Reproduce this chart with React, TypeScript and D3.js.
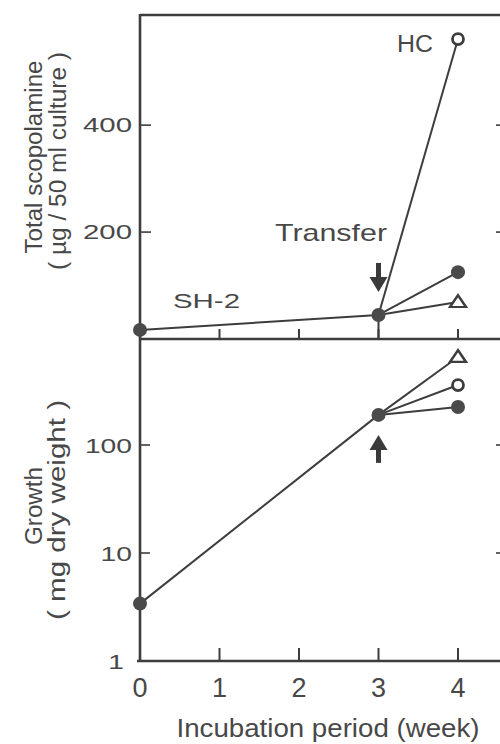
import React from "react";
import * as d3 from "d3";

// weeks on the x axis
const weekTicks = [0, 1, 2, 3, 4];

// SH-2 culture before transfer (week 0 and week 3)
const sh2Weeks = [0, 3];
const sh2Scopolamine = [17, 45]; // µg / 50 ml
const sh2Growth = [3.4, 190]; // mg dry weight

// three branches after transfer, read at week 4
const branchMarkers = ["openCircle", "filledCircle", "openTriangle"];
const branchScopolamine = [561, 125, 69];
const branchGrowth = [359, 225, 653];

const scopTicks = [200, 400];
const growthTicks = [1, 10, 100];

const W = 500;
const H = 744;
const left = 140;
const right = 506;
const topY = 15;
const midY = 339;
const bottomY = 661;

const ink = "#3d3d3d";
const textInk = "#484848";
const font = "'Liberation Sans', Arial, sans-serif";

const x = d3.scaleLinear().domain([0, 4.6]).range([left, left + 4.6 * 79.5]);
const yTop = d3.scaleLinear().domain([0, 606]).range([midY, topY]);
const yBot = d3.scaleLog().domain([1, 1000]).range([bottomY, midY - 2]);

const Marker = ({ kind, cx, cy }: { kind: string; cx: number; cy: number }) => {
  if (kind === "filledCircle")
    return <circle cx={cx} cy={cy} r={7} fill="#4a4a4a" />;
  if (kind === "openCircle")
    return <circle cx={cx} cy={cy} r={5.5} fill="#fff" stroke={ink} strokeWidth={2.8} />;
  const tri = d3.symbol(d3.symbolTriangle, 110)();
  return (
    <path
      d={tri || ""}
      transform={`translate(${cx},${cy + 1}) scale(1,0.85)`}
      fill="#fff"
      stroke={ink}
      strokeWidth={2.6}
      strokeLinejoin="miter"
    />
  );
};

const App = () => {
  const lineTop = d3
    .line<number>()
    .x((_, i) => x(sh2Weeks[i]))
    .y((d) => yTop(d));
  const lineBot = d3
    .line<number>()
    .x((_, i) => x(sh2Weeks[i]))
    .y((d) => yBot(d));

  const t3 = x(3);
  const ySh2Top = yTop(sh2Scopolamine[1]);
  const ySh2Bot = yBot(sh2Growth[1]);

  return (
    <svg
      width={W}
      height={H}
      style={{ position: "absolute", left: 0, top: 0, background: "#fff" }}
      fontFamily={font}
    >
      {/* frames */}
      <g stroke={ink} strokeWidth={2.6} fill="none">
        <line x1={left} x2={right} y1={topY} y2={topY} />
        <line x1={left} x2={left} y1={topY - 1} y2={bottomY + 1} />
        <line x1={left} x2={right} y1={midY} y2={midY} />
        <line x1={left - 3} x2={right} y1={bottomY} y2={bottomY} />
        <line x1={right} x2={right} y1={topY} y2={bottomY} />
      </g>

      {/* x ticks on both panels */}
      <g stroke={ink} strokeWidth={2}>
        {weekTicks.slice(1).map((w) => (
          <g key={w}>
            <line x1={x(w)} x2={x(w)} y1={midY} y2={midY - 10} />
            <line x1={x(w)} x2={x(w)} y1={bottomY} y2={bottomY - 13} />
          </g>
        ))}
      </g>
      {weekTicks.map((w) => (
        <text
          key={w}
          x={x(w)}
          y={697}
          textAnchor="middle"
          fontSize={27}
          fill={textInk}
        >
          {w}
        </text>
      ))}
      <text
        x={328}
        y={737}
        textAnchor="middle"
        fontSize={25}
        fill={textInk}
        textLength={303}
        lengthAdjust="spacingAndGlyphs"
      >
        Incubation period (week)
      </text>

      {/* top y axis */}
      {scopTicks.map((v) => (
        <g key={v}>
          <line x1={left} x2={left + 11} y1={yTop(v)} y2={yTop(v)} stroke={ink} strokeWidth={1.6} />
          <line x1={right} x2={right - 10} y1={yTop(v)} y2={yTop(v)} stroke={ink} strokeWidth={1.6} />
          <text
            x={132}
            y={yTop(v) + 7}
            textAnchor="end"
            fontSize={20}
            fill={textInk}
            textLength={49}
            lengthAdjust="spacingAndGlyphs"
          >
            {v}
          </text>
        </g>
      ))}

      {/* bottom y axis */}
      {growthTicks.map((v) => (
        <g key={v}>
          {v > 1 && (
            <>
              <line x1={left} x2={left + 10} y1={yBot(v)} y2={yBot(v)} stroke={ink} strokeWidth={1.6} />
              <line x1={right} x2={right - 10} y1={yBot(v)} y2={yBot(v)} stroke={ink} strokeWidth={1.6} />
            </>
          )}
          <text
            x={v === 1 ? 124 : 132}
            y={yBot(v) + 8}
            textAnchor="end"
            fontSize={21}
            fill={textInk}
            textLength={String(v).length * 15.7}
            lengthAdjust="spacingAndGlyphs"
          >
            {v}
          </text>
        </g>
      ))}

      {/* y labels */}
      <g fill={textInk} fontSize={23}>
        <text
          transform="translate(42,157) rotate(-90)"
          textAnchor="middle"
          textLength={193}
          lengthAdjust="spacingAndGlyphs"
        >
          Total  scopolamine
        </text>
        <text
          transform="translate(66,161) rotate(-90)"
          textAnchor="middle"
          textLength={218}
          lengthAdjust="spacingAndGlyphs"
        >
          ( µg / 50 ml culture )
        </text>
        <text
          transform="translate(42,506) rotate(-90)"
          textAnchor="middle"
          textLength={78}
          lengthAdjust="spacingAndGlyphs"
        >
          Growth
        </text>
        <text
          transform="translate(65,510) rotate(-90)"
          textAnchor="middle"
          textLength={220}
          lengthAdjust="spacingAndGlyphs"
        >
          ( mg dry weight )
        </text>
      </g>

      {/* data lines */}
      <g stroke={ink} strokeWidth={2} fill="none">
        <path d={lineTop(sh2Scopolamine) || ""} />
        <path d={lineBot(sh2Growth) || ""} />
        {branchMarkers.map((m, i) => (
          <g key={m}>
            <line x1={t3} y1={ySh2Top} x2={x(4)} y2={yTop(branchScopolamine[i])} />
            <line x1={t3} y1={ySh2Bot} x2={x(4)} y2={yBot(branchGrowth[i])} />
          </g>
        ))}
      </g>
      <line x1={t3} x2={t3} y1={ySh2Top} y2={midY} stroke={ink} strokeWidth={2} />

      {/* markers */}
      {sh2Weeks.map((w, i) => (
        <g key={w}>
          <Marker kind="filledCircle" cx={x(w)} cy={yTop(sh2Scopolamine[i])} />
          <Marker kind="filledCircle" cx={x(w)} cy={yBot(sh2Growth[i])} />
        </g>
      ))}
      {branchMarkers.map((m, i) => (
        <g key={m}>
          <Marker kind={m} cx={x(4)} cy={yTop(branchScopolamine[i])} />
          <Marker kind={m} cx={x(4)} cy={yBot(branchGrowth[i])} />
        </g>
      ))}

      {/* transfer arrows */}
      <g fill="#3a3a3a">
        <rect x={t3 - 2.5} y={ySh2Top - 52} width={5} height={16} />
        <path d={`M${t3 - 9},${ySh2Top - 38} L${t3 + 9},${ySh2Top - 38} L${t3},${ySh2Top - 23} Z`} />
        <path d={`M${t3 - 9},${ySh2Bot + 35} L${t3 + 9},${ySh2Bot + 35} L${t3},${ySh2Bot + 20} Z`} />
        <rect x={t3 - 2.5} y={ySh2Bot + 34} width={5} height={14} />
      </g>

      {/* annotations */}
      <g fill={textInk}>
        <text x={397} y={52} fontSize={23} textLength={36} lengthAdjust="spacingAndGlyphs">
          HC
        </text>
        <text x={173} y={308} fontSize={21} textLength={67} lengthAdjust="spacingAndGlyphs">
          SH-2
        </text>
        <text x={275} y={241} fontSize={24} textLength={112} lengthAdjust="spacingAndGlyphs">
          Transfer
        </text>
      </g>
    </svg>
  );
};

export default App;
